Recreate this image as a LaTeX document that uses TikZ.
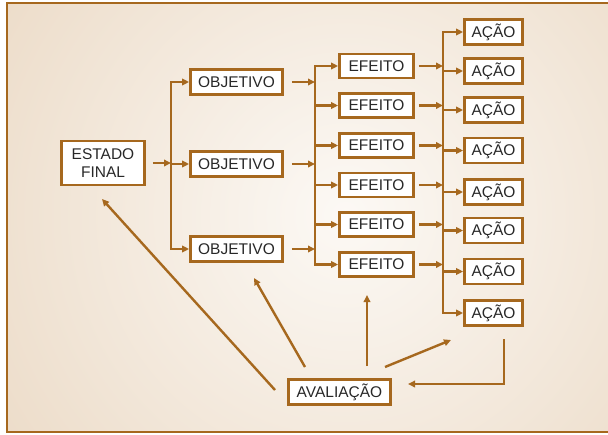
\documentclass[tikz,border=0pt]{standalone}
\usepackage{fontspec}
\setmainfont{Liberation Sans}
\usetikzlibrary{arrows.meta}
\definecolor{brn}{RGB}{166,104,30}
\definecolor{txt}{RGB}{40,40,40}
\definecolor{bgin}{RGB}{252,249,245}
\definecolor{bgout}{RGB}{220,190,155}
\pgfdeclareradialshading{bgshade}{\pgfpoint{0bp}{0bp}}{color(0bp)=(bgin); color(50bp)=(bgout)}
\begin{document}
\begin{tikzpicture}[x=1pt,y=-1pt,
  box/.style={draw=brn, line width=2.8pt, fill=white, text=txt, inner sep=0pt,
    font=\fontsize{15.5}{18}\selectfont, align=center},
  obj/.style={box, minimum width=92pt, minimum height=25pt},
  efe/.style={box, minimum width=74pt, minimum height=24pt},
  aca/.style={box, minimum width=58pt, minimum height=25pt},
  ln/.style={draw=brn, line width=2.4pt},
  vln/.style={ln, line cap=rect},
  arr/.style={ln, -{Triangle[length=7pt,width=6.5pt]}}]
\useasboundingbox (0,0) rectangle (608,434);
\fill[white] (0,0) rectangle (608,434);
\begin{scope}
  \clip (7,3) rectangle (608,432);
  \shade[shading=bgshade] (345,215) circle (420pt);
\end{scope}
\draw[brn, line width=2.7pt] (612,3) -- (7,3) -- (7,432) -- (612,432);

% nodes
\node[box, minimum width=83pt, minimum height=44pt] (es) at (103,163) {ESTADO\\FINAL};
\node[obj] (ob1) at (236.5,82) {OBJETIVO};
\node[obj] (ob2) at (236.5,164) {OBJETIVO};
\node[obj] (ob3) at (236.5,249) {OBJETIVO};
\node[efe] (ef1) at (376.5,66) {EFEITO};
\node[efe] (ef2) at (376.5,105.5) {EFEITO};
\node[efe] (ef3) at (376.5,145.5) {EFEITO};
\node[efe] (ef4) at (376.5,185) {EFEITO};
\node[efe] (ef5) at (376.5,224.5) {EFEITO};
\node[efe] (ef6) at (376.5,264.5) {EFEITO};
\node[aca] (a1) at (493.5,32) {AÇÃO};
\node[aca] (a2) at (493.5,71) {AÇÃO};
\node[aca] (a3) at (493.5,110) {AÇÃO};
\node[aca] (a4) at (493.5,150.5) {AÇÃO};
\node[aca] (a5) at (493.5,192) {AÇÃO};
\node[aca] (a6) at (493.5,230.5) {AÇÃO};
\node[aca] (a7) at (493.5,271.5) {AÇÃO};
\node[aca] (a8) at (493.5,313) {AÇÃO};
\node[box, minimum width=102pt, minimum height=25pt] (av) at (339.5,392) {AVALIAÇÃO};

% junction columns
\coordinate (vx1) at (171,0);
\coordinate (vx2) at (315,0);
\coordinate (vx3) at (443,0);

% estado -> objetivos
\draw[arr] ([xshift=7pt]es.east) -- (es.east -| vx1);
\draw[vln] (ob1.west -| vx1) -- (ob3.west -| vx1);
\foreach \n in {ob1,ob2,ob3} \draw[arr] (\n.west -| vx1) -- (\n.west);

% objetivos -> efeitos
\foreach \n in {ob1,ob2,ob3} \draw[arr] ([xshift=8pt]\n.east) -- (\n.east -| vx2);
\draw[vln] (ef1.west -| vx2) -- (ef6.west -| vx2);
\foreach \n in {ef1,ef2,ef3,ef4,ef5,ef6} \draw[arr] (\n.west -| vx2) -- (\n.west);

% efeitos -> acoes
\foreach \n in {ef1,ef2,ef3,ef4,ef5,ef6} \draw[arr] ([xshift=4pt]\n.east) -- (\n.east -| vx3);
\draw[vln] (a1.west -| vx3) -- (a8.west -| vx3);
\foreach \n in {a1,a2,a3,a4,a5,a6,a7,a8} \draw[arr] (\n.west -| vx3) -- (\n.west);

% feedback from avaliacao
\coordinate (f1s) at (275,390); \coordinate (f1e) at (102,199);
\coordinate (f2s) at (305,367); \coordinate (f2e) at (254,278);
\coordinate (f3s) at (367,366); \coordinate (f3e) at (367,295);
\coordinate (f4s) at (385,367); \coordinate (f4e) at (451,340);
\coordinate (f5s) at (504,339); \coordinate (f5e) at (408,384);
\draw[arr] (f1s) -- (f1e);
\draw[arr] (f2s) -- (f2e);
\draw[arr] (f3s) -- (f3e);
\draw[arr] (f4s) -- (f4e);
\draw[arr] (f5s) |- (f5e);
\end{tikzpicture}
\end{document}
